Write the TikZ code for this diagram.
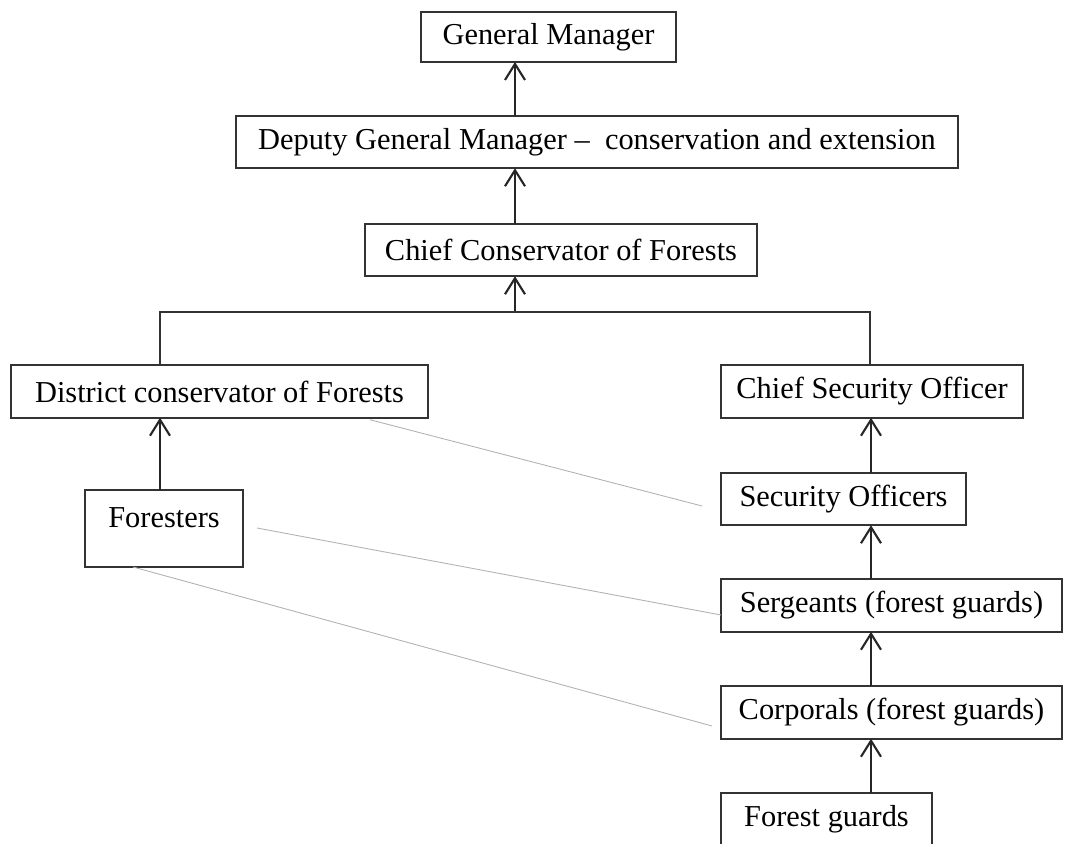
\documentclass[tikz,border=0pt]{standalone}
\usepackage{fontspec}
\setmainfont{Liberation Serif}
\usepackage{tikz}
\usetikzlibrary{calc,arrows.meta}

\begin{document}
\begin{tikzpicture}[x=0.02cm,y=-0.02cm,
  every node/.style={outer sep=0pt,font=\fontsize{17.3}{20}\selectfont}]
\tikzstyle{post}=[draw=black!80,line width=1.2pt,minimum height=1.05cm,inner sep=0pt]
\tikzstyle{up}=[draw=black!85,line width=1.2pt,-{Straight Barb[length=3.2mm,width=4mm]}]
\tikzstyle{link}=[draw=black!30,line width=0.5pt]

\useasboundingbox (0,0) rectangle (1066,844);
\clip (0,0) rectangle (1066,844);

% top of the chain
\node (GM) [post,minimum width=5.1cm,minimum height=1cm] at (548.5,37) {General Manager};
\node (DGM) [post,minimum width=14.44cm] at (597,142)
   {Deputy General Manager -- \ conservation and extension};
\node (CCF) [post,minimum width=7.84cm] at (561,250) {Chief Conservator of Forests};

% two branches
\node (DCF) [post,minimum width=8.34cm] at (219.5,391.5) {District conservator of Forests};
\node (CSO) [post,minimum width=6.04cm] at (872,391.5) {Chief Security Officer};
\node (FOR) [post,minimum width=3.16cm,minimum height=1.54cm,text depth=12pt] at (164,528.5) {Foresters};

\node (SO) [post,minimum width=4.9cm] at (843.5,499) {Security Officers};
\node (SERG) [post,minimum width=6.82cm] at (891.5,605.5) {Sergeants (forest guards)};
\node (CORP) [post,minimum width=6.82cm] at (891.5,712.5) {Corporals (forest guards)};
\node (FG) [post,minimum width=4.22cm] at (826.5,819) {Forest guards};

\coordinate (spine) at (515,0);
\coordinate (BL) at (160,312);
\coordinate (BR) at (870,312);
\coordinate (rs) at (871,0);

\draw [up] (DGM.north -| spine) -- (GM.south -| spine);
\draw [up] (CCF.north -| spine) -- (DGM.south -| spine);
\draw [up] (BL -| spine) -- (CCF.south -| spine);
\draw [draw=black!80,line width=1.2pt]
   (DCF.north -| BL) -- (BL) -- (BR) -- (CSO.north -| BR);

\draw [up] (FOR.north -| BL) -- (DCF.south -| BL);
\draw [up] (SO.north -| rs) -- (CSO.south -| rs);
\draw [up] (SERG.north -| rs) -- (SO.south -| rs);
\draw [up] (CORP.north -| rs) -- (SERG.south -| rs);
\draw [up] (FG.north -| rs) -- (CORP.south -| rs);

% faint lines across
\coordinate (e1) at (702,506);
\coordinate (s2) at (257,528);
\coordinate (e3) at (712,726);
\draw [link] ($(DCF.south west)+(359,2)$) -- (e1);
\draw [link] (s2) -- (SERG.west |- 0,615);
\draw [link] (FOR.south -| 133,0) -- (e3);

\end{tikzpicture}
\end{document}
